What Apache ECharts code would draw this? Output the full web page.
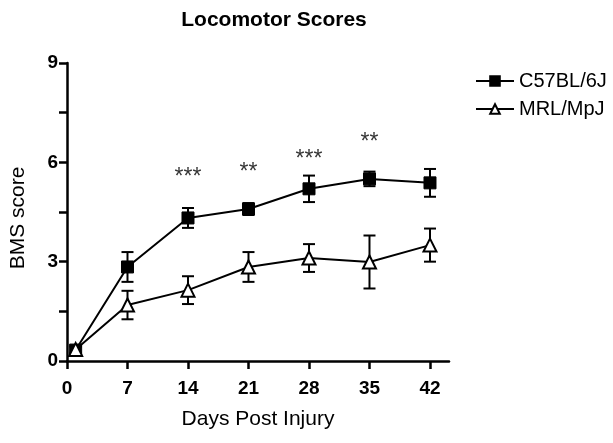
<!DOCTYPE html>
<html>
<head>
<meta charset="utf-8">
<script src="https://cdn.jsdelivr.net/npm/echarts@6/dist/echarts.min.js"></script>
<style>html,body{margin:0;padding:0;background:#fff}#c{width:613px;height:443px}</style>
</head>
<body>
<div id="c"></div>
<script>
var days = [1, 7, 14, 21, 28, 35, 42];
var c57Mean = [0.33, 2.84, 4.32, 4.59, 5.2, 5.5, 5.38];
var c57Err = [0.1, 0.45, 0.3, 0.18, 0.4, 0.22, 0.42];
var mrlMean = [0.35, 1.69, 2.14, 2.84, 3.11, 2.99, 3.5];
var mrlErr = [0.1, 0.43, 0.42, 0.45, 0.42, 0.8, 0.5];
var xTicks = [0, 7, 14, 21, 28, 35, 42];
var yTicks = [0, 1.5, 3, 4.5, 6, 7.5, 9];
var yLabels = [0, 3, 6, 9];
var sigDays = [14, 21, 28, 35];
var sigY = [5.55, 5.68, 6.08, 6.6];
var sigText = ['***', '**', '***', '**'];

var FONT = 'Liberation Sans, Arial, sans-serif';

function pairs(m) { return days.map(function (d, i) { return [d, m[i]]; }); }
function errData(m, e) { return days.map(function (d, i) { return [d, m[i] - e[i], m[i] + e[i]]; }); }

function errRender(params, api) {
  var x = api.value(0);
  var lo = api.coord([x, api.value(1)]);
  var hi = api.coord([x, api.value(2)]);
  var hw = 6;
  var st = { stroke: '#000', lineWidth: 2, fill: null };
  return {
    type: 'group',
    children: [
      { type: 'line', shape: { x1: lo[0], y1: lo[1], x2: hi[0], y2: hi[1] }, style: st },
      { type: 'line', shape: { x1: lo[0] - hw, y1: lo[1], x2: lo[0] + hw, y2: lo[1] }, style: st },
      { type: 'line', shape: { x1: hi[0] - hw, y1: hi[1], x2: hi[0] + hw, y2: hi[1] }, style: st }
    ]
  };
}

var chart = echarts.init(document.getElementById('c'), null, { renderer: 'canvas' });
chart.setOption({
  animation: false,
  backgroundColor: '#fff',
  title: {
    text: 'Locomotor Scores',
    left: 269, top: 5, textAlign: 'center',
    textStyle: { fontFamily: FONT, fontSize: 21, fontWeight: 'bold', color: '#000' }
  },
  legend: {
    orient: 'vertical',
    left: 470, top: 66,
    itemWidth: 38, itemHeight: 12, itemGap: 8,
    data: ['C57BL/6J', 'MRL/MpJ'],
    textStyle: { fontFamily: FONT, fontSize: 20, color: '#000' }
  },
  grid: { left: 67, top: 63, right: 164, bottom: 82, containLabel: false },
  xAxis: {
    type: 'value', min: 0, max: 44.2,
    name: 'Days Post Injury', nameLocation: 'middle', nameGap: 48,
    nameTextStyle: { fontFamily: FONT, fontSize: 21, color: '#000' },
    axisLine: { show: true, onZero: false, lineStyle: { color: '#000', width: 2.5 } },
    axisTick: { show: true, length: 8, customValues: xTicks, lineStyle: { color: '#000', width: 2.5 } },
    axisLabel: { customValues: xTicks, margin: 18, fontFamily: FONT, fontSize: 19, fontWeight: 'bold', color: '#000' },
    splitLine: { show: false }
  },
  yAxis: {
    type: 'value', min: 0, max: 9,
    name: 'BMS score', nameLocation: 'middle', nameGap: 38,
    nameTextStyle: { fontFamily: FONT, fontSize: 21, color: '#000', padding: [0, 12, 0, 0] },
    axisLine: { show: true, lineStyle: { color: '#000', width: 2.5 } },
    axisTick: { show: true, length: 8, customValues: yTicks, lineStyle: { color: '#000', width: 2.5 } },
    axisLabel: { customValues: yLabels, margin: 9, fontFamily: FONT, fontSize: 19, fontWeight: 'bold', color: '#000' },
    splitLine: { show: false }
  },
  series: [
    {
      type: 'custom', name: 'c57err', renderItem: errRender, data: errData(c57Mean, c57Err),
      encode: { x: 0, y: [1, 2] }, z: 1
    },
    {
      type: 'custom', name: 'mrlerr', renderItem: errRender, data: errData(mrlMean, mrlErr),
      encode: { x: 0, y: [1, 2] }, z: 1
    },
    {
      name: 'C57BL/6J', type: 'line', data: pairs(c57Mean),
      symbol: 'rect', symbolSize: 12,
      lineStyle: { color: '#000', width: 2 },
      itemStyle: { color: '#000', borderColor: '#000', borderWidth: 1 },
      z: 3
    },
    {
      name: 'MRL/MpJ', type: 'line', data: pairs(mrlMean),
      symbol: 'triangle', symbolSize: 13,
      lineStyle: { color: '#000', width: 2 },
      itemStyle: { color: '#fff', borderColor: '#000', borderWidth: 2 },
      z: 4
    },
    {
      type: 'scatter', name: 'sig', symbolSize: 0,
      data: sigDays.map(function (d, i) { return { value: [d, sigY[i]], name: sigText[i] }; }),
      label: {
        show: true, position: 'inside', formatter: '{b}',
        fontFamily: FONT, fontSize: 23, color: '#000'
      },
      z: 5
    }
  ]
});
</script>
</body>
</html>
